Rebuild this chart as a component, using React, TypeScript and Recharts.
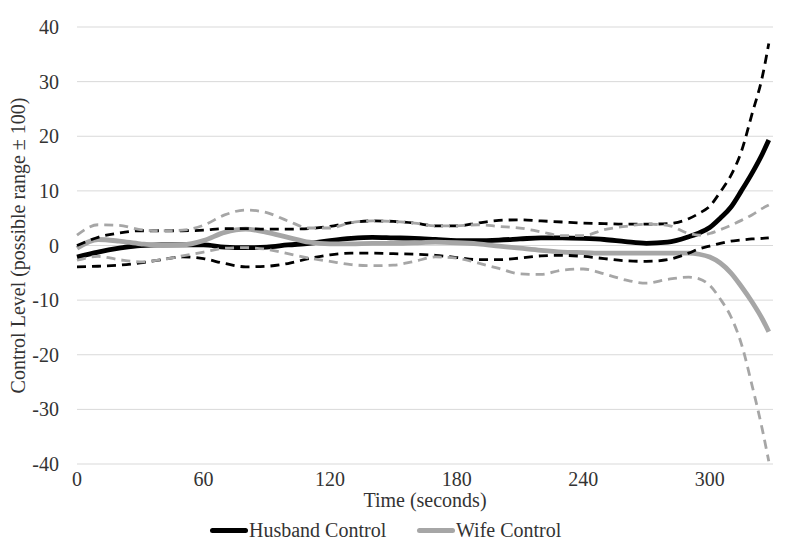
import React from 'react';
import { LineChart, Line, XAxis, YAxis, CartesianGrid, Legend } from 'recharts';

// Time (seconds)
const times = [0, 10, 20, 30, 40, 50, 60, 70, 80, 90, 100, 110, 120, 130, 140, 150, 160, 170, 180, 190, 200, 210, 220, 230, 240, 250, 260, 270, 280, 290, 295, 300, 305, 310, 315, 320, 325, 328];

const husbandControl = [-2.1, -1.2, -0.5, 0.0, 0.1, 0.1, 0.1, -0.3, -0.4, -0.3, 0.1, 0.4, 0.9, 1.3, 1.5, 1.4, 1.3, 1.1, 0.9, 0.9, 1.0, 1.2, 1.4, 1.4, 1.3, 1.1, 0.7, 0.4, 0.6, 1.6, 2.3, 3.3, 5.0, 7.0, 10.0, 13.2, 16.8, 19.3];
const husbandUpper = [0.0, 1.5, 2.3, 2.7, 2.7, 2.7, 2.8, 3.1, 3.1, 3.0, 3.0, 3.1, 3.5, 4.2, 4.5, 4.4, 4.1, 3.6, 3.6, 4.1, 4.6, 4.7, 4.5, 4.3, 4.1, 4.0, 3.9, 3.9, 4.0, 4.9, 5.9, 7.2, 9.8, 12.8, 17.2, 24.0, 31.0, 37.0];
const husbandLower = [-3.9, -3.8, -3.6, -3.2, -2.6, -2.1, -2.4, -3.3, -3.9, -3.8, -3.3, -2.4, -1.7, -1.4, -1.4, -1.5, -1.6, -1.8, -2.2, -2.6, -2.6, -2.3, -1.9, -1.8, -2.0, -2.4, -2.8, -2.9, -2.6, -1.4, -0.6, -0.1, 0.4, 0.8, 1.0, 1.2, 1.3, 1.4];

const wifeControl = [-0.5, 1.1, 0.8, 0.3, 0.0, 0.1, 0.9, 2.4, 3.0, 2.4, 1.5, 0.6, 0.3, 0.3, 0.4, 0.4, 0.5, 0.6, 0.5, 0.3, -0.1, -0.5, -0.9, -1.2, -1.3, -1.4, -1.4, -1.4, -1.4, -1.4, -1.6, -2.1, -3.2, -5.0, -7.5, -10.3, -13.5, -15.8];
const wifeUpper = [1.9, 3.8, 3.7, 2.9, 2.7, 2.8, 3.7, 5.6, 6.5, 6.0, 4.5, 3.2, 3.2, 4.2, 4.5, 4.4, 4.1, 3.6, 3.6, 3.8, 3.5, 3.2, 2.5, 1.8, 1.8, 2.9, 3.5, 3.9, 3.7, 2.2, 1.9, 2.2, 2.9, 3.7, 4.6, 5.6, 6.8, 7.4];
const wifeLower = [-2.7, -2.0, -2.6, -3.0, -2.6, -1.9, -1.2, -0.5, -0.4, -0.7, -1.5, -2.3, -2.9, -3.5, -3.7, -3.6, -2.9, -2.1, -2.3, -3.2, -4.2, -5.2, -5.3, -4.5, -4.3, -5.2, -6.3, -6.9, -6.2, -5.8, -6.1, -7.3, -9.8, -13.0, -18.0, -25.5, -33.8, -39.5];

const xTicks = [0, 60, 120, 180, 240, 300];
const yTicks = [-40, -30, -20, -10, 0, 10, 20, 30, 40];

const seriesNames = ['Husband Control', 'Wife Control'];
const xTitle = 'Time (seconds)';
const yTitle = 'Control Level (possible range \u00B1 100)';

const data = times.map((t, i) => ({
  t,
  husband: husbandControl[i],
  husbandUp: husbandUpper[i],
  husbandLo: husbandLower[i],
  wife: wifeControl[i],
  wifeUp: wifeUpper[i],
  wifeLo: wifeLower[i],
}));

const FONT = '"Liberation Serif", "Times New Roman", serif';
const TEXT = '#333333';
const BLACK = '#000000';
const GRAY = '#a6a6a6';

const XTick = (props: any) => {
  const { x, y, payload } = props;
  return (
    <text x={x} y={y} dy="0.71em" textAnchor="middle" fontFamily={FONT} fontSize={20} fill={TEXT} style={{ fontFamily: FONT }}>
      {payload.value}
    </text>
  );
};

const YTick = (props: any) => {
  const { x, y, payload } = props;
  return (
    <text x={x} y={y} dy="0.355em" textAnchor="end" fontFamily={FONT} fontSize={20} fill={TEXT} style={{ fontFamily: FONT }}>
      {payload.value}
    </text>
  );
};

const YAxisTitle = (props: any) => {
  const vb = props.viewBox || { x: 9, y: 19, width: 60, height: 437 };
  const cy = vb.y + vb.height / 2;
  return (
    <text
      transform={`translate(${vb.x + 1},${cy}) rotate(-90)`}
      textAnchor="middle"
      dy="0.35em"
      fontFamily={FONT}
      fontSize={20}
      fill={TEXT}
      style={{ fontFamily: FONT }}
    >
      {yTitle}
    </text>
  );
};

const XAxisTitle = (props: any) => {
  const vb = props.viewBox || { x: 69, y: 456, width: 696, height: 54 };
  return (
    <text
      x={vb.x + vb.width / 2}
      y={vb.y + 43}
      textAnchor="middle"
      fontFamily={FONT}
      fontSize={20}
      fill={TEXT}
      style={{ fontFamily: FONT }}
    >
      {xTitle}
    </text>
  );
};

const legendColors = [BLACK, GRAY];
const legendLefts = [202, 409];

const LegendContent = () => (
  <div style={{ position: 'relative', width: 790, height: 24, fontFamily: FONT, fontSize: 20, color: TEXT }}>
    {seriesNames.map((name, i) => (
      <div
        key={name}
        style={{ position: 'absolute', left: legendLefts[i], top: 0, height: 24, display: 'flex', alignItems: 'center', whiteSpace: 'nowrap' }}
      >
        <span style={{ display: 'inline-block', width: 38, height: 5, borderRadius: 3, background: legendColors[i], marginRight: 1 }} />
        <span style={{ lineHeight: '24px' }}>{name}</span>
      </div>
    ))}
  </div>
);

export default function App() {
  return (
    <div style={{ position: 'relative', width: 790, height: 540, fontFamily: FONT }}>
      <div style={{ position: 'absolute', left: 784, top: -8, width: 1, height: 558, background: '#d9d9d9' }} />
      <LineChart width={790} height={540} data={data} margin={{ top: 19, right: 25, left: 9, bottom: 6 }} style={{ fontFamily: FONT }}>
        <CartesianGrid horizontal vertical={false} stroke="#d9d9d9" strokeWidth={1} />
        <XAxis
          dataKey="t"
          type="number"
          domain={[0, 330]}
          ticks={xTicks}
          interval={0}
          axisLine={false}
          tickLine={false}
          height={54}
          tick={<XTick />}
          tickMargin={2}
          label={<XAxisTitle />}
        />
        <YAxis
          type="number"
          domain={[-40, 40]}
          ticks={yTicks}
          interval={0}
          axisLine={false}
          tickLine={false}
          width={60}
          tick={<YTick />}
          tickMargin={12}
          label={<YAxisTitle />}
        />
        <Legend
          verticalAlign="bottom"
          layout="horizontal"
          content={<LegendContent />}
          wrapperStyle={{ left: 0, bottom: 6, width: 790, height: 24 }}
        />
        <Line dataKey="husband" name={seriesNames[0]} type="monotone" stroke={BLACK} strokeWidth={4.8} dot={false} activeDot={false} isAnimationActive={false} />
        <Line dataKey="wife" name={seriesNames[1]} type="monotone" stroke={GRAY} strokeWidth={4.8} dot={false} activeDot={false} isAnimationActive={false} />
        <Line dataKey="husbandUp" legendType="none" type="monotone" stroke={BLACK} strokeWidth={2.8} strokeDasharray="9 6" dot={false} activeDot={false} isAnimationActive={false} />
        <Line dataKey="husbandLo" legendType="none" type="monotone" stroke={BLACK} strokeWidth={2.8} strokeDasharray="9 6" dot={false} activeDot={false} isAnimationActive={false} />
        <Line dataKey="wifeUp" legendType="none" type="monotone" stroke={GRAY} strokeWidth={2.8} strokeDasharray="9 6" dot={false} activeDot={false} isAnimationActive={false} />
        <Line dataKey="wifeLo" legendType="none" type="monotone" stroke={GRAY} strokeWidth={2.8} strokeDasharray="9 6" dot={false} activeDot={false} isAnimationActive={false} />
      </LineChart>
    </div>
  );
}
